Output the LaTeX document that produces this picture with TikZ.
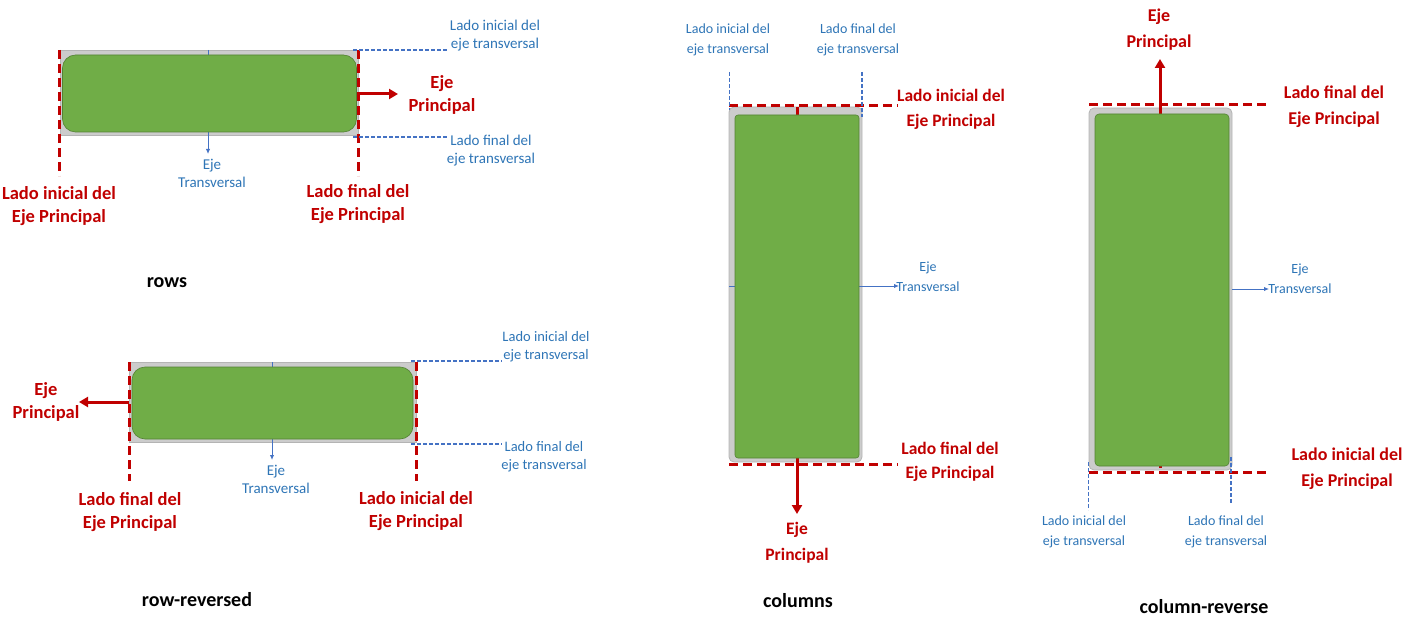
\documentclass[tikz,border=0pt]{standalone}
\usepackage{fontspec}
\setmainfont{Carlito}
\usetikzlibrary{arrows.meta}
\definecolor{dred}{HTML}{C00000}
\definecolor{tblue}{HTML}{2E75B6}
\definecolor{lblue}{HTML}{4472C4}
\definecolor{gfill}{HTML}{70AD47}
\definecolor{gdraw}{HTML}{548235}
\definecolor{grayfill}{HTML}{CCCCCC}
\definecolor{graydraw}{HTML}{B4B4B4}
\tikzset{
  graybox/.style={draw=graydraw,fill=grayfill,line width=0.8pt,inner sep=0pt,outer sep=0pt},
  greenbox/.style={draw=gdraw,fill=gfill,line width=0.6pt,inner sep=0pt,outer sep=0pt},
  reddash/.style={draw=dred,line width=3pt,dash pattern=on 9pt off 5pt},
  bluedash/.style={draw=lblue,line width=1.1pt,dash pattern=on 4pt off 2pt},
  redarrow/.style={draw=dred,line width=3pt,-{Triangle[length=9pt,width=10pt]}},
  bluearrow/.style={draw=lblue,line width=1pt,-{Latex[length=5pt,width=4.5pt]}},
  redlbl/.style={text=dred,font=\fontsize{18.5}{23}\selectfont\bfseries,align=center,inner sep=0pt},
  bluelbl/.style={text=tblue,font=\fontsize{15}{18}\selectfont,align=center,inner sep=0pt},
  bluesm/.style={text=tblue,font=\fontsize{14}{20}\selectfont,align=center,inner sep=0pt},
  title/.style={text=black,font=\fontsize{20}{24}\selectfont\bfseries,inner sep=0pt},
}
\begin{document}
\begin{tikzpicture}[x=1pt,y=-1pt]
\useasboundingbox (0,0) rectangle (1412,631);

% ================= Panel 1: rows =================
\node[graybox,minimum width=298pt,minimum height=85pt] (g1) at (209,92.5) {};
\coordinate (t1top) at (208,50);
\coordinate (t1end) at (208,154);
\draw[bluearrow] (t1top) -- (t1end);
\node[greenbox,rounded corners=13pt,minimum width=294pt,minimum height=77pt] (gr1) at (209.5,93.5) {};
\coordinate (p1a) at (59,50);  \coordinate (p1b) at (59,176);
\coordinate (p1c) at (358,50); \coordinate (p1d) at (358,176);
\draw[reddash] (p1a) -- (p1b);
\draw[reddash] (p1c) -- (p1d);
\coordinate (m1s) at (358,94); \coordinate (m1e) at (398,94);
\draw[redarrow] (m1s) -- (m1e);
\node[redlbl] (e1) at (442,95) {Eje\\Principal};
\coordinate (b1a) at (353,50);  \coordinate (b1b) at (448,50);
\coordinate (b1c) at (353,137); \coordinate (b1d) at (448,137);
\draw[bluedash] (b1a) -- (b1b);
\draw[bluedash] (b1c) -- (b1d);
\node[bluelbl] (l1a) at (495,36) {Lado inicial del\\eje transversal};
\node[bluelbl] (l1b) at (491,151) {Lado final del\\eje transversal};
\node[bluelbl] (tr1) at (212,173) {Eje\\Transversal};
\node[redlbl] (r1a) at (59,206) {Lado inicial del\\Eje Principal};
\node[redlbl] (r1b) at (358,204) {Lado final del\\Eje Principal};
\node[title] (ti1) at (167,283) {rows};

% ================= Panel 2: row-reversed =================
\node[graybox,minimum width=287pt,minimum height=80pt] (g2) at (272.5,402) {};
\coordinate (t2top) at (272,362);
\coordinate (t2end) at (272,460);
\draw[bluearrow] (t2top) -- (t2end);
\node[greenbox,rounded corners=13pt,minimum width=281pt,minimum height=72pt] (gr2) at (272.5,403) {};
\coordinate (p2a) at (129,362); \coordinate (p2b) at (129,481);
\coordinate (p2c) at (416,362); \coordinate (p2d) at (416,481);
\draw[reddash] (p2a) -- (p2b);
\draw[reddash] (p2c) -- (p2d);
\coordinate (m2s) at (129,402); \coordinate (m2e) at (79,402);
\draw[redarrow] (m2s) -- (m2e);
\node[redlbl] (e2) at (46,402) {Eje\\Principal};
\coordinate (b2a) at (411,361); \coordinate (b2b) at (502,361);
\coordinate (b2c) at (411,444); \coordinate (b2d) at (502,444);
\draw[bluedash] (b2a) -- (b2b);
\draw[bluedash] (b2c) -- (b2d);
\node[bluesm,font=\fontsize{14.5}{18}\selectfont] (l2a) at (546,347) {Lado inicial del\\eje transversal};
\node[bluesm,font=\fontsize{14.5}{18}\selectfont] (l2b) at (544,457) {Lado final del\\eje transversal};
\node[bluelbl] (tr2) at (276,479) {Eje\\Transversal};
\node[redlbl] (r2a) at (130,512) {Lado final del\\Eje Principal};
\node[redlbl] (r2b) at (416,511) {Lado inicial del\\Eje Principal};
\node[title] (ti2) at (197,600) {row-reversed};

% ================= Panel 3: columns =================
\node[graybox,rounded corners=5pt,minimum width=133pt,minimum height=355pt] (g3) at (795.5,284.5) {};
\coordinate (t3s) at (729,286); \coordinate (t3e) at (899,286);
\draw[bluearrow] (t3s) -- (t3e);
\coordinate (m3s) at (797,107); \coordinate (m3e) at (797,514);
\draw[redarrow] (m3s) -- (m3e);
\node[greenbox,rounded corners=3pt,minimum width=124pt,minimum height=343pt] (gr3) at (797,286.5) {};
\coordinate (p3a) at (729,106); \coordinate (p3b) at (898,106);
\coordinate (p3c) at (729,464); \coordinate (p3d) at (898,464);
\draw[reddash] (p3a) -- (p3b);
\draw[reddash] (p3c) -- (p3d);
\coordinate (b3a) at (729,72); \coordinate (b3b) at (729,110);
\coordinate (b3c) at (862,72); \coordinate (b3d) at (862,117);
\draw[bluedash,line width=0.8pt] (b3a) -- (b3b);
\draw[bluedash,line width=1.3pt] (b3c) -- (b3d);
\node[bluesm] (l3a) at (728,40) {Lado inicial del\\eje transversal};
\node[bluesm] (l3b) at (858,40) {Lado final del\\eje transversal};
\node[redlbl,font=\fontsize{17.5}{25}\selectfont\bfseries] (r3a) at (951,109) {Lado inicial del\\Eje Principal};
\node[redlbl,font=\fontsize{17.5}{24}\selectfont\bfseries] (r3b) at (950,462) {Lado final del\\Eje Principal};
\node[bluesm] (tr3) at (928,277) {Eje\\Transversal};
\node[redlbl,font=\fontsize{17.5}{26}\selectfont\bfseries] (e3) at (797,543) {Eje\\Principal};
\node[title] (ti3) at (798,601) {columns};

% ================= Panel 4: column-reverse =================
\node[graybox,rounded corners=5pt,minimum width=143pt,minimum height=362pt] (g4) at (1160.5,289) {};
\coordinate (m4s) at (1160,468); \coordinate (m4e) at (1160,59);
\draw[redarrow] (m4s) -- (m4e);
\node[greenbox,rounded corners=4pt,minimum width=134pt,minimum height=352pt] (gr4) at (1162,290) {};
\coordinate (t4s) at (1232,289); \coordinate (t4e) at (1269,289);
\draw[bluearrow] (t4s) -- (t4e);
\coordinate (p4a) at (1089,105); \coordinate (p4b) at (1270,105);
\coordinate (p4c) at (1089,472); \coordinate (p4d) at (1270,472);
\draw[reddash] (p4a) -- (p4b);
\draw[reddash] (p4c) -- (p4d);
\coordinate (b4a) at (1088,462); \coordinate (b4b) at (1088,510);
\coordinate (b4c) at (1231,457); \coordinate (b4d) at (1231,503);
\draw[bluedash,line width=0.8pt] (b4a) -- (b4b);
\draw[bluedash,line width=1.3pt] (b4c) -- (b4d);
\node[bluesm] (l4a) at (1084,532) {Lado inicial del\\eje transversal};
\node[bluesm] (l4b) at (1226,532) {Lado final del\\eje transversal};
\node[redlbl,font=\fontsize{18}{26}\selectfont\bfseries] (r4a) at (1334,107) {Lado final del\\Eje Principal};
\node[redlbl,font=\fontsize{18}{26}\selectfont\bfseries] (r4b) at (1347,469) {Lado inicial del\\Eje Principal};
\node[bluesm] (tr4) at (1300,279) {Eje\\Transversal};
\node[redlbl,font=\fontsize{18}{26}\selectfont\bfseries] (e4) at (1159,30) {Eje\\Principal};
\node[title] (ti4) at (1204,607) {column-reverse};
\end{tikzpicture}
\end{document}
